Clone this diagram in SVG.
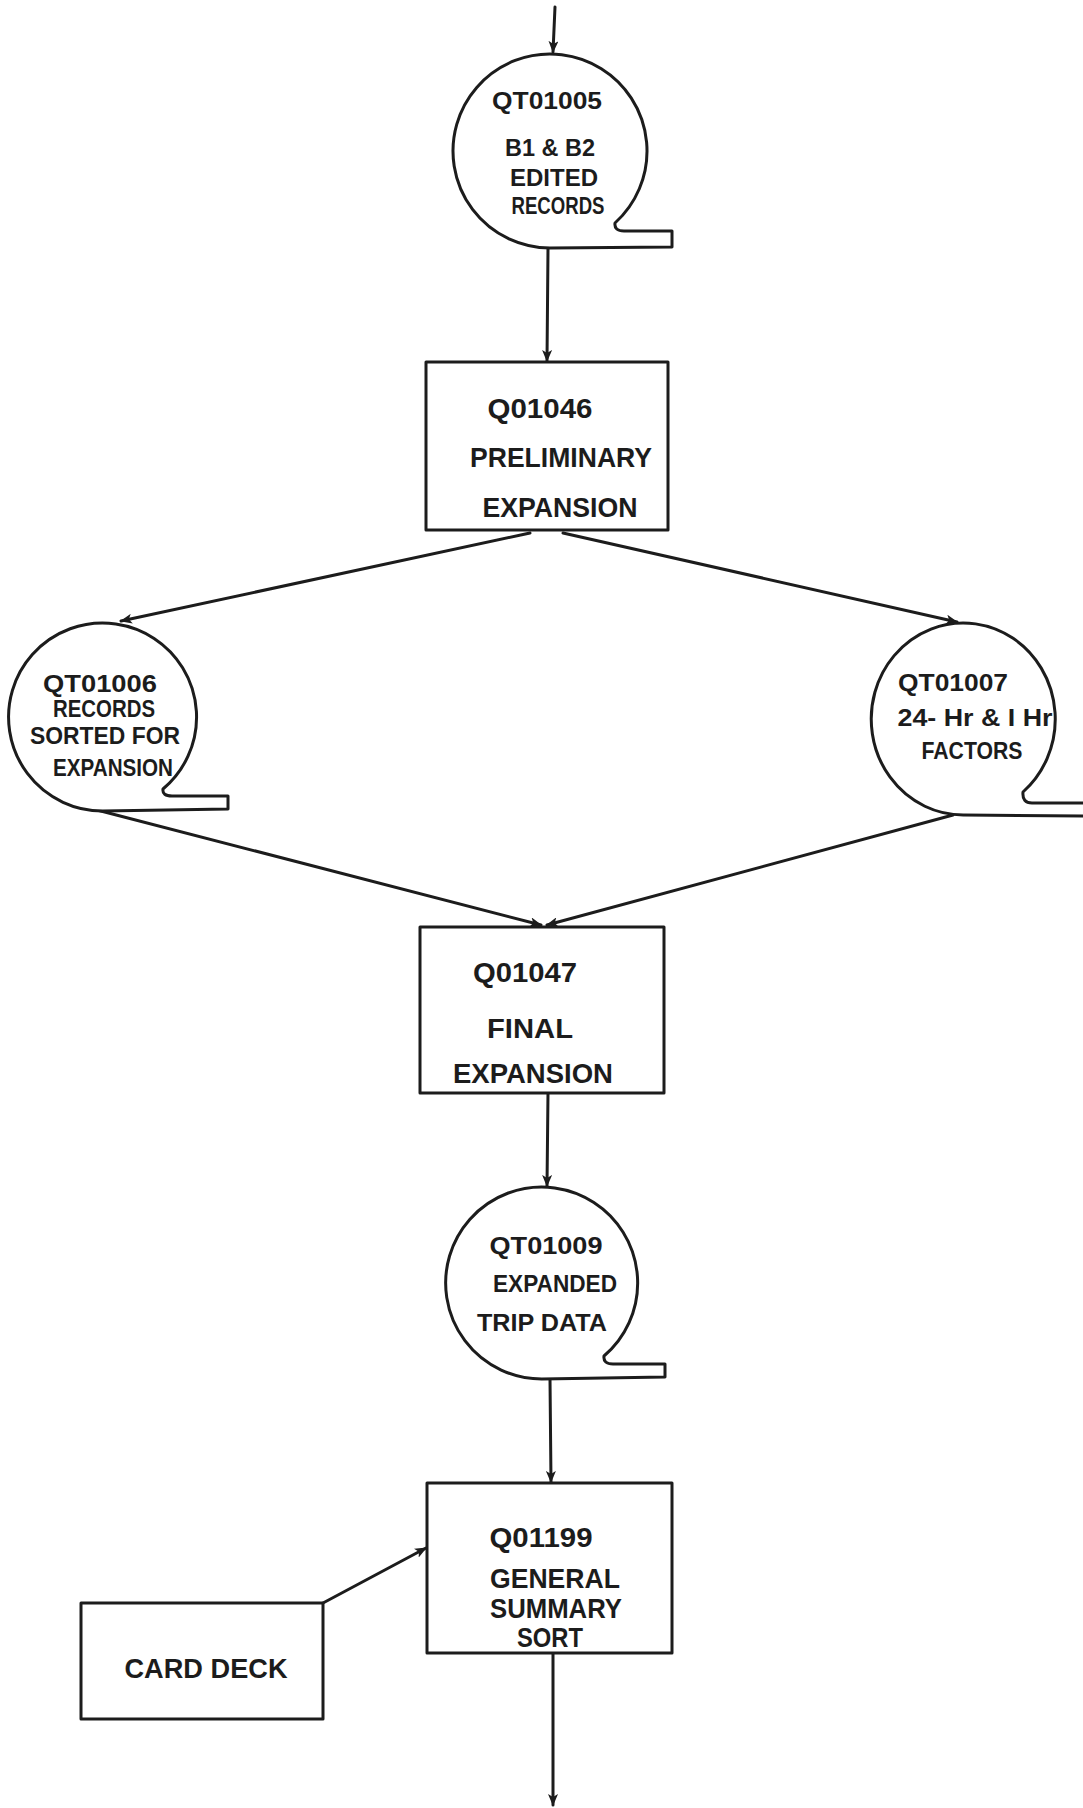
<svg xmlns="http://www.w3.org/2000/svg" width="1083" height="1808" viewBox="0 0 1083 1808">
<style>
  .shape { fill: #ffffff; stroke: #1c1c1c; stroke-width: 3; stroke-linejoin: round; }
  .tape { fill: none; stroke: #1c1c1c; stroke-width: 3; stroke-linejoin: round; stroke-linecap: round; }
  .conn { fill: none; stroke: #1c1c1c; stroke-width: 3; stroke-linecap: round; }
  .t { font-family: "Liberation Sans", Arial, sans-serif; font-weight: bold; fill: #1c1c1c; text-anchor: middle; }
  .ts { font-size: 24px; }
  .tb { font-size: 28px; }
  .tc { font-size: 27px; }
</style>
<defs>
  <marker id="arr" viewBox="0 0 12 10" refX="11" refY="5" markerWidth="12" markerHeight="10" markerUnits="userSpaceOnUse" orient="auto">
    <path d="M0,0 L12,5 L0,10 L3,5 Z" fill="#1c1c1c"/>
  </marker>
</defs>
<rect x="0" y="0" width="1083" height="1808" fill="#ffffff"/>

<g id="connectors">
  <line class="conn" x1="555" y1="7" x2="553" y2="52" marker-end="url(#arr)"/>
  <line class="conn" x1="548" y1="249" x2="547" y2="361" marker-end="url(#arr)"/>
  <line class="conn" x1="530" y1="533" x2="121" y2="621" marker-end="url(#arr)"/>
  <line class="conn" x1="563" y1="533" x2="957" y2="622" marker-end="url(#arr)"/>
  <line class="conn" x1="97" y1="810" x2="541" y2="925" marker-end="url(#arr)"/>
  <line class="conn" x1="953" y1="815" x2="547" y2="925" marker-end="url(#arr)"/>
  <line class="conn" x1="548" y1="1093" x2="547" y2="1186" marker-end="url(#arr)"/>
  <line class="conn" x1="550" y1="1379" x2="551" y2="1482" marker-end="url(#arr)"/>
  <line class="conn" x1="323" y1="1603" x2="426" y2="1548" marker-end="url(#arr)"/>
  <line class="conn" x1="553" y1="1653" x2="553" y2="1805" marker-end="url(#arr)"/>
</g>

<g id="QT01005">
  <path class="shape" d="M550,248 A97,97 0 1 1 615,223 Q614,231 624,231 L672,231 L672,247 L550,248 Z"/>
  <text class="t ts" x="547" y="109" textLength="110" lengthAdjust="spacingAndGlyphs">QT01005</text>
  <text class="t ts" x="550" y="156" textLength="90" lengthAdjust="spacingAndGlyphs">B1 &amp; B2</text>
  <text class="t ts" x="554" y="186" textLength="88" lengthAdjust="spacingAndGlyphs">EDITED</text>
  <text class="t ts" x="558" y="214" textLength="93" lengthAdjust="spacingAndGlyphs">RECORDS</text>
</g>

<g id="Q01046">
  <rect class="shape" x="426" y="362" width="242" height="168"/>
  <text class="t tb" x="540" y="418" textLength="105" lengthAdjust="spacingAndGlyphs">Q01046</text>
  <text class="t tb" x="561" y="467" textLength="182" lengthAdjust="spacingAndGlyphs">PRELIMINARY</text>
  <text class="t tb" x="560" y="517" textLength="155" lengthAdjust="spacingAndGlyphs">EXPANSION</text>
</g>

<g id="QT01006">
  <path class="shape" d="M103,811 A94,94 0 1 1 163,789 Q162,796 172,796 L228,796 L228,809 L103,811 Z"/>
  <text class="t ts" x="100" y="692" textLength="114" lengthAdjust="spacingAndGlyphs">QT01006</text>
  <text class="t ts" x="104" y="717" textLength="102" lengthAdjust="spacingAndGlyphs">RECORDS</text>
  <text class="t ts" x="105" y="744" textLength="150" lengthAdjust="spacingAndGlyphs">SORTED FOR</text>
  <text class="t ts" x="113" y="776" textLength="120" lengthAdjust="spacingAndGlyphs">EXPANSION</text>
</g>

<g id="QT01007">
  <path class="shape" d="M964,815 A92,96 0 1 1 1023,792 Q1022,803 1032,803 L1090,803 L1090,816 L964,815 Z"/>
  <text class="t ts" x="953" y="691" textLength="110" lengthAdjust="spacingAndGlyphs">QT01007</text>
  <text class="t ts" x="975" y="726" textLength="155" lengthAdjust="spacingAndGlyphs">24- Hr &amp; I Hr</text>
  <text class="t ts" x="972" y="759" textLength="101" lengthAdjust="spacingAndGlyphs">FACTORS</text>
</g>

<g id="Q01047">
  <rect class="shape" x="420" y="927" width="244" height="166"/>
  <text class="t tb" x="525" y="982" textLength="104" lengthAdjust="spacingAndGlyphs">Q01047</text>
  <text class="t tb" x="530" y="1038" textLength="86" lengthAdjust="spacingAndGlyphs">FINAL</text>
  <text class="t tb" x="533" y="1083" textLength="160" lengthAdjust="spacingAndGlyphs">EXPANSION</text>
</g>

<g id="QT01009">
  <path class="shape" d="M542,1379 A96,96 0 1 1 604,1356 Q603,1364 613,1364 L665,1364 L665,1377 L542,1379 Z"/>
  <text class="t ts" x="546" y="1254" textLength="113" lengthAdjust="spacingAndGlyphs">QT01009</text>
  <text class="t ts" x="555" y="1292" textLength="124" lengthAdjust="spacingAndGlyphs">EXPANDED</text>
  <text class="t ts" x="542" y="1331" textLength="130" lengthAdjust="spacingAndGlyphs">TRIP  DATA</text>
</g>

<g id="Q01199">
  <rect class="shape" x="427" y="1483" width="245" height="170"/>
  <text class="t tb" x="541" y="1547" textLength="103" lengthAdjust="spacingAndGlyphs">Q01199</text>
  <text class="t tb" x="555" y="1588" textLength="130" lengthAdjust="spacingAndGlyphs">GENERAL</text>
  <text class="t tb" x="556" y="1618" textLength="132" lengthAdjust="spacingAndGlyphs">SUMMARY</text>
  <text class="t tb" x="550" y="1647" textLength="66" lengthAdjust="spacingAndGlyphs">SORT</text>
</g>

<g id="CARD_DECK">
  <rect class="shape" x="81" y="1603" width="242" height="116"/>
  <text class="t tc" x="206" y="1678" textLength="163" lengthAdjust="spacingAndGlyphs">CARD DECK</text>
</g>
</svg>
